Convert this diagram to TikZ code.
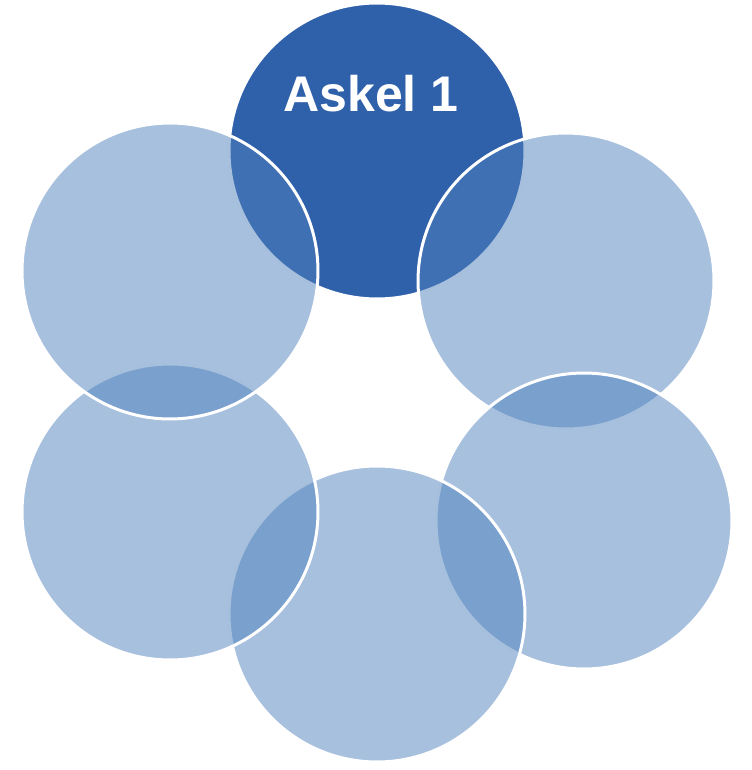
\documentclass[tikz,border=0pt]{standalone}
\usepackage{fontspec}
\setmainfont{Liberation Sans}
\usepackage{xcolor}
\usepackage{tikz}
\usetikzlibrary{positioning,backgrounds}

\definecolor{stepdark}{RGB}{47,96,170}
\definecolor{steplight}{RGB}{79,129,189}

\begin{document}
\begin{tikzpicture}[
    x=0.02cm, y=-0.02cm,
    first/.style={circle, draw=white, line width=1.7pt, fill=stepdark, minimum size=5.92cm, inner sep=0pt},
    other/.style={circle, draw=white, line width=1.7pt, fill=steplight, fill opacity=0.5, minimum size=5.92cm, inner sep=0pt},
    label/.style={text=white, font=\fontsize{28.5}{30}\selectfont\bfseries}
]
    \useasboundingbox (0,0) rectangle (751,770);

    % First step on top, then the ring clockwise
    \node[first] (s1) at (377,151) {};
    \node[other] (s2) at (566,281) {};
    \node[other] (s3) at (584,521) {};
    \node[other] (s4) at (377,614) {};
    \node[other] (s5) at (170,512) {};
    \node[other] (s6) at (170,271) {};

    \node[label, anchor=base] (t1) at (371,112) {Askel 1};
\end{tikzpicture}
\end{document}
